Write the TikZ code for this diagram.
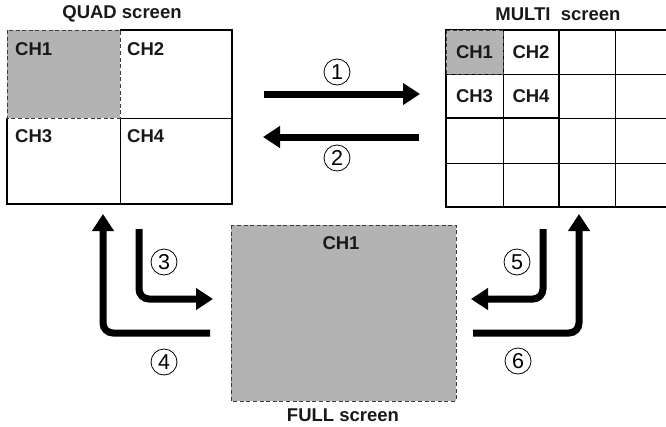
\documentclass[tikz,border=0pt]{standalone}
\usepackage{fontspec}
\setmainfont{Liberation Sans}
\usepackage{xcolor}
\usetikzlibrary{arrows.meta,positioning}

\definecolor{chgray}{RGB}{179,179,179}
\definecolor{dashgray}{RGB}{60,60,60}

\begin{document}
\begin{tikzpicture}[
    x=1pt, y=-1pt,
    font=\bfseries\fontsize{18.5}{21}\selectfont,
    lbl/.style={inner sep=0pt, text=black!90},
    num/.style={circle, draw, line width=0.8pt, minimum size=26pt, inner sep=0pt,
                font=\mdseries\fontsize{21.5}{22}\selectfont},
    gridline/.style={line width=1pt},
    frame/.style={line width=1.8pt},
    thickframe/.style={line width=2.7pt},
    dashcell/.style={draw=dashgray, fill=chgray, line width=1pt, dash pattern=on 4pt off 2.6pt},
    bigarr/.style={-{Triangle[length=17pt,width=21pt]}, line width=7pt, rounded corners=10pt}
]
\useasboundingbox (0,0) rectangle (666,426);

%% QUAD screen
\draw[gridline] (120,118) -- (120,204);
\draw[gridline] (120,118) -- (232,118);
\draw[thickframe] (120,30) -- (232,30) -- (232,204) -- (7,204) -- (7,118);
\draw[dashcell] (7,30) rectangle (120,118);
\node[lbl, anchor=base west] (q1) at (15,55) {CH1};
\node[lbl, anchor=base west] (q2) at (127,55) {CH2};
\node[lbl, anchor=base west] (q3) at (15,142) {CH3};
\node[lbl, anchor=base west] (q4) at (127,142) {CH4};
\node[lbl] (quadtitle) at (122,14) {QUAD screen};

%% MULTI screen
\foreach \x in {503,615}
  \draw[gridline] (\x,30) -- (\x,207);
\foreach \y in {74,163}
  \draw[gridline] (446,\y) -- (671,\y);
\draw[gridline] (446,118) -- (671,118);
\draw[frame] (446,30) rectangle (671,207);
\draw[frame] (559,30) -- (559,207);
\draw[thickframe] (503,30) -- (559,30) -- (559,118) -- (446,118) -- (446,74);
\draw[dashcell] (446,30) rectangle (503,74);
\node[lbl] (m1) at (474.5,52) {CH1};
\node[lbl] (m2) at (531,52) {CH2};
\node[lbl] (m3) at (474.5,96) {CH3};
\node[lbl] (m4) at (531,96) {CH4};
\node[lbl] (multititle) at (558,14) {MULTI\ \ screen};

%% FULL screen
\draw[dashcell] (231,225) rectangle (456,401);
\node[lbl] (f1) at (341,243) {CH1};
\node[lbl] (fulltitle) at (343,415) {FULL screen};

%% Arrow ends
\coordinate (a1s) at (264,94);   \coordinate (a1e) at (420,94);
\coordinate (a2s) at (419,137);  \coordinate (a2e) at (263,137);
\coordinate (a3s) at (139,229);  \coordinate (a3e) at (213,299);
\coordinate (a4s) at (210,333);  \coordinate (a4e) at (103,214);
\coordinate (a5s) at (543,229);  \coordinate (a5e) at (471,299);
\coordinate (a6s) at (473,333);  \coordinate (a6e) at (579,214);

%% Arrows
\draw[bigarr] (a1s) -- (a1e);
\draw[bigarr] (a2s) -- (a2e);
\draw[bigarr] (a3s) |- (a3e);
\draw[bigarr] (a4s) -| (a4e);
\draw[bigarr] (a5s) |- (a5e);
\draw[bigarr] (a6s) -| (a6e);

%% Step numbers
\node[num] (n1) at (337,72) {1};
\node[num] (n2) at (337,158) {2};
\node[num] (n3) at (164,262) {3};
\node[num] (n4) at (164,362) {4};
\node[num] (n5) at (517,262) {5};
\node[num] (n6) at (518,361) {6};

\end{tikzpicture}
\end{document}
